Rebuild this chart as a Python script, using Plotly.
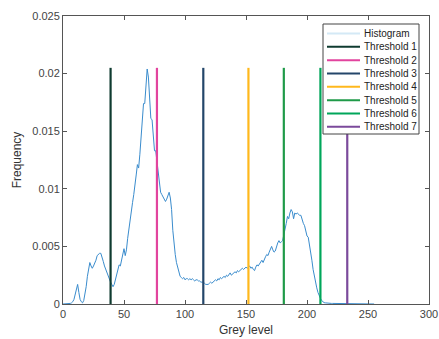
import plotly.graph_objects as go

grey_levels = list(range(256))
frequency = [
    0, 0, 0, 0, 0, 0, 0.00005, 0.0001, 0.0002, 0.0004,
    0.0009, 0.0015, 0.0017, 0.0010, 0.0004, 0.0002, 0.0001, 0.0003, 0.0008, 0.0015,
    0.0024, 0.0031, 0.0036, 0.0033, 0.0031, 0.0033, 0.0035, 0.0038, 0.0042, 0.0043,
    0.0044, 0.0044, 0.0041, 0.0037, 0.0033, 0.0030, 0.0027, 0.0024, 0.0022, 0.0019,
    0.0017, 0.0015, 0.0017, 0.0021, 0.0026, 0.0031, 0.0034, 0.0033, 0.0038, 0.0044,
    0.0048, 0.0042, 0.0047, 0.0057, 0.0066, 0.0074, 0.0080, 0.0088, 0.0095, 0.0102,
    0.0112, 0.0121, 0.0118, 0.0130, 0.0148, 0.0163, 0.0174, 0.0174, 0.0188, 0.0204,
    0.0197, 0.0175, 0.0161, 0.0160, 0.0147, 0.0133, 0.0133, 0.0124, 0.0114, 0.0102,
    0.0097, 0.0095, 0.0093, 0.0091, 0.0089, 0.0091, 0.0095, 0.0097, 0.0092, 0.0082,
    0.0064, 0.0052, 0.0043, 0.0036, 0.0031, 0.0027, 0.0024, 0.0023, 0.0022, 0.0023,
    0.0021, 0.0022, 0.0022, 0.0021, 0.0022, 0.0021, 0.0022, 0.0021, 0.0020, 0.0021,
    0.0021, 0.0020, 0.0020, 0.0019, 0.0019, 0.0019, 0.0018, 0.0017, 0.0017, 0.0017,
    0.0018, 0.0019, 0.0018, 0.0019, 0.0020, 0.0021, 0.0020, 0.0022, 0.0021, 0.0023,
    0.0022, 0.0023, 0.0024, 0.0023, 0.0025, 0.0024, 0.0026, 0.0027, 0.0025, 0.0026,
    0.0027, 0.0028, 0.0027, 0.0029, 0.0028, 0.0029, 0.0030, 0.0031, 0.0030, 0.0031,
    0.0032, 0.0031, 0.0032, 0.0033, 0.0031, 0.0032, 0.0030, 0.0029, 0.0032, 0.0034,
    0.0033, 0.0035, 0.0037, 0.0038, 0.0036, 0.0039, 0.0041, 0.0043, 0.0042, 0.0045,
    0.0048, 0.0050, 0.0047, 0.0045, 0.0046, 0.0050, 0.0053, 0.0055, 0.0053, 0.0054,
    0.0055, 0.0060, 0.0064, 0.0070, 0.0076, 0.0074, 0.0079, 0.0082, 0.0080, 0.0074,
    0.0079, 0.0078, 0.0079, 0.0078, 0.0077, 0.0077, 0.0072, 0.0070, 0.0068, 0.0064,
    0.0059, 0.0058, 0.0052, 0.0044, 0.0038, 0.0030, 0.0024, 0.0018, 0.0014, 0.0010,
    0.0007, 0.0005, 0.0003, 0.0002, 0.00012, 0.0001, 0.00008, 0.00007, 0.00006, 0.00005,
    0.00005, 0.00005, 0.00005, 0.00005, 0.00005, 0.00005, 0.00005, 0.00005, 0.00005, 0.00005,
    0.00005, 0.00005, 0.00005, 0.00005, 0.00005, 0.00005, 0.00005, 0.00005, 0.00005, 0.00005,
    0.00005, 0.00005, 0.00005, 0.00005, 0.00005, 0.00005, 0.00005, 0.00005, 0.00005, 0.00005,
    0.00004, 0.00004, 0.00003, 0.00003, 0.00002, 0,
]

threshold_names = ["Threshold 1", "Threshold 2", "Threshold 3", "Threshold 4",
                   "Threshold 5", "Threshold 6", "Threshold 7"]
threshold_values = [39, 77, 115, 152, 181, 211, 233]
threshold_top = 0.0205
threshold_colors = ["#0f3b30", "#e2449e", "#24466a", "#ffb81c",
                    "#1f9a48", "#00a65a", "#7b4a9b"]
hist_name = "Histogram"
hist_color = "#3a8ccd"
hist_legend_color = "#d4e9f6"

x_ticks = [0, 50, 100, 150, 200, 250, 300]
y_ticks = [0, 0.005, 0.01, 0.015, 0.02, 0.025]
y_tick_labels = ["0", "0.005", "0.01", "0.015", "0.02", "0.025"]

W, H = 439, 339
ML, MR, MT, MB = 63, 10, 16, 35
PW, PH = W - ML - MR, H - MT - MB
FONT = "Liberation Sans, Arial, Helvetica"

def px(xp):
    return (xp - ML) / PW

def py(yp):
    return 1 - (yp - MT) / PH

fig = go.Figure()
fig.add_trace(go.Scatter(x=grey_levels, y=frequency, mode="lines",
                         line=dict(color=hist_color, width=1), showlegend=False))
for name, t, c in zip(threshold_names, threshold_values, threshold_colors):
    fig.add_trace(go.Scatter(x=[t, t], y=[0, threshold_top], mode="lines", name=name,
                             line=dict(color=c, width=2.2), showlegend=False))

# manual legend (MATLAB-style compact box)
shapes = []
annotations = []
leg_left, leg_right, leg_top, leg_bottom = 323, 419, 24, 134
row0, row_step = 33.5, 13.33
shapes.append(dict(type="rect", xref="paper", yref="paper",
                   x0=px(leg_left), x1=px(leg_right), y0=py(leg_bottom), y1=py(leg_top),
                   line=dict(color="#444444", width=1), fillcolor="white", layer="above"))
legend_names = [hist_name] + threshold_names
legend_colors = [hist_legend_color] + threshold_colors
for i, (n, c) in enumerate(zip(legend_names, legend_colors)):
    yy = row0 + i * row_step
    shapes.append(dict(type="line", xref="paper", yref="paper",
                       x0=px(327), x1=px(360), y0=py(yy), y1=py(yy),
                       line=dict(color=c, width=2), layer="above"))
    annotations.append(dict(x=px(362), y=py(yy), xref="paper", yref="paper",
                            text=n, showarrow=False, xanchor="left", yanchor="middle",
                            font=dict(family=FONT, size=10, color="#222222")))

axis_common = dict(showgrid=False, zeroline=False, showline=True, linecolor="#555555",
                   linewidth=1, mirror="ticks", ticks="inside", ticklen=4,
                   tickcolor="#555555", automargin=False,
                   tickfont=dict(family=FONT, size=11, color="#444444"))
fig.update_xaxes(range=[0, 300], tickvals=x_ticks, title=dict(text="Grey level",
                 font=dict(family=FONT, size=12, color="#333333"), standoff=6),
                 **axis_common)
fig.update_yaxes(range=[0, 0.025], tickvals=y_ticks, ticktext=y_tick_labels,
                 title=dict(text="Frequency",
                 font=dict(family=FONT, size=12, color="#333333"), standoff=8),
                 **axis_common)
fig.update_layout(
    width=W, height=H,
    margin=dict(l=ML, r=MR, t=MT, b=MB),
    paper_bgcolor="white", plot_bgcolor="white",
    showlegend=False, shapes=shapes, annotations=annotations,
)
fig.write_html("out.html")
